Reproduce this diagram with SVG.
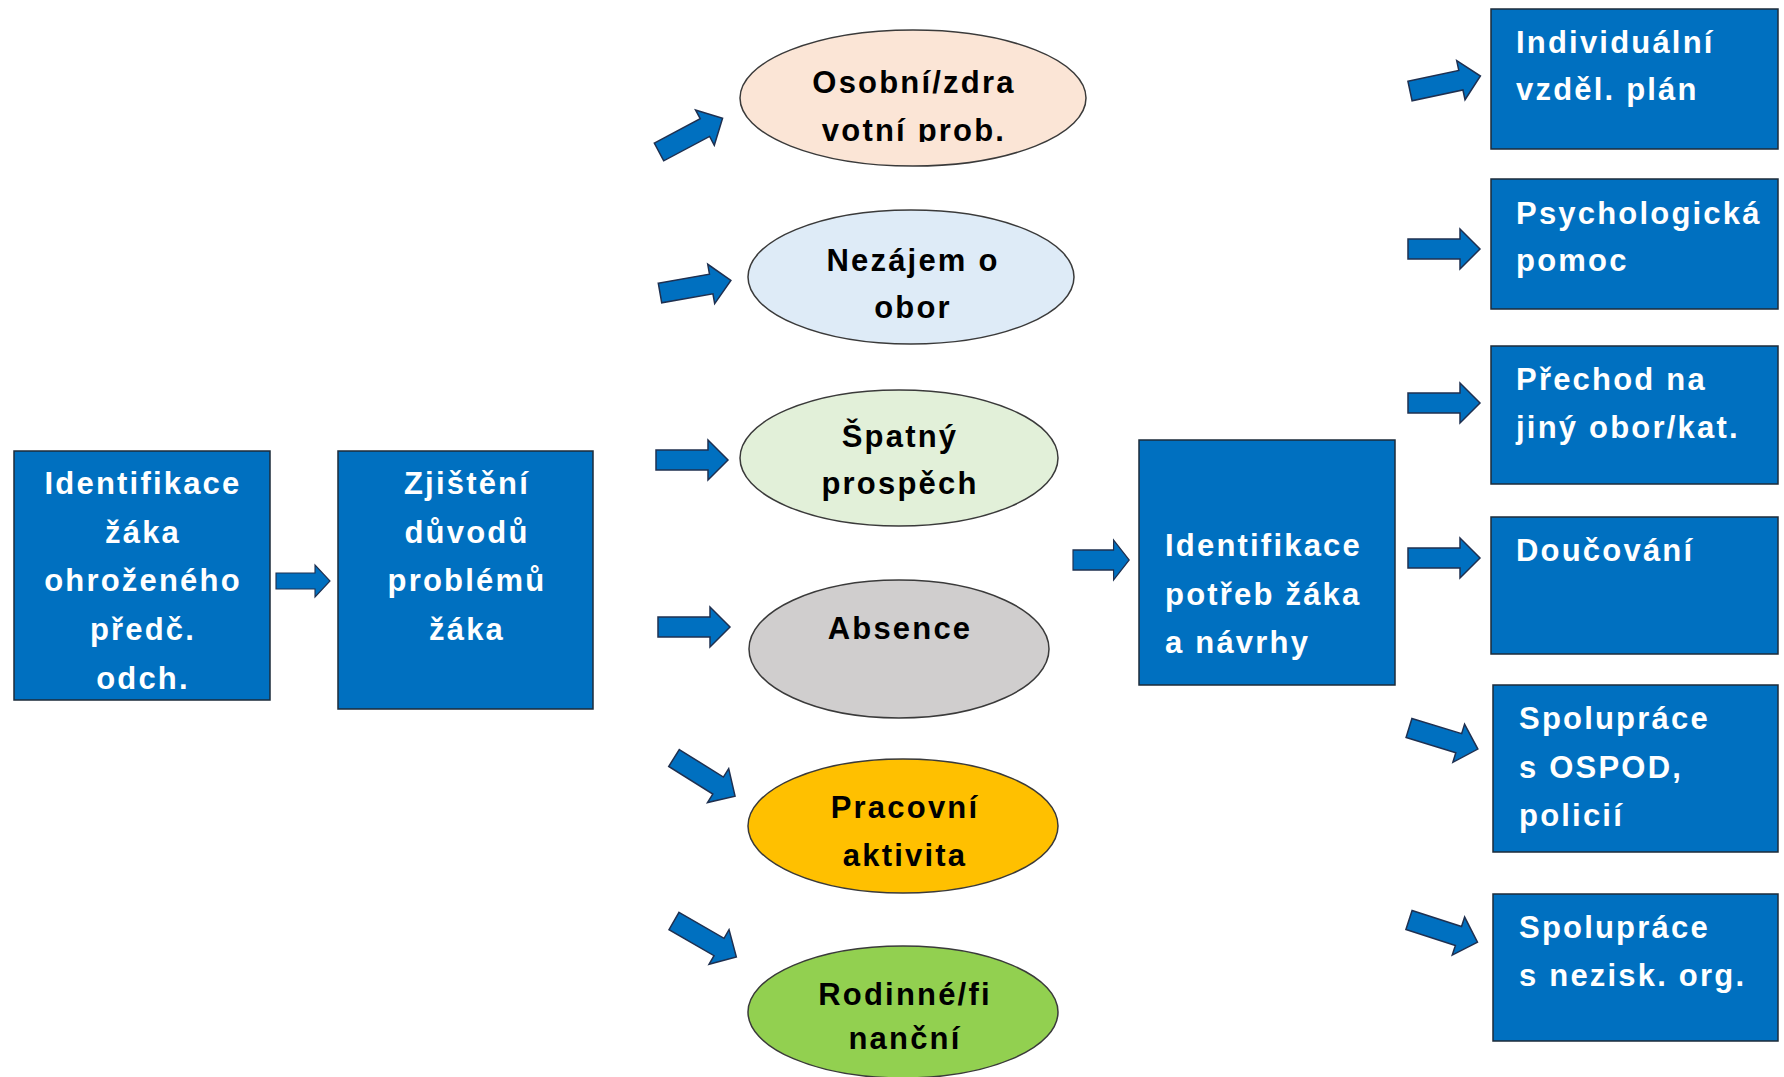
<svg xmlns="http://www.w3.org/2000/svg" xmlns:xlink="http://www.w3.org/1999/xlink" width="1784" height="1077" viewBox="0 0 1784 1077">
<style>
.box{fill:#0070C0;stroke:#1c2b3a;stroke-width:1.5}
.ell{stroke:#3a3a3a;stroke-width:1.5}
.arr{fill:#0070C0;stroke:#1F3050;stroke-width:1.5}
.t{font-family:"Liberation Sans",Arial,sans-serif;font-weight:bold;font-size:31px;letter-spacing:2.2px}
.w{fill:#ffffff}
.k{fill:#000000}
.c{text-anchor:middle}
</style>
<defs>
<path id="a" d="M0,-10 L52,-10 L52,-20 L72,0 L52,20 L52,10 L0,10 Z"/>
<clipPath id="clipO"><rect x="700" y="0" width="450" height="142"/></clipPath>
</defs>
<rect width="1784" height="1077" fill="#ffffff"/>

<g id="connectors">
<use xlink:href="#a" class="arr" transform="translate(276,581) scale(0.75,0.8)"/>
<use xlink:href="#a" class="arr" transform="translate(659,152) rotate(-28)"/>
<use xlink:href="#a" class="arr" transform="translate(660,293) rotate(-10)"/>
<use xlink:href="#a" class="arr" transform="translate(656,460)"/>
<use xlink:href="#a" class="arr" transform="translate(658,627)"/>
<use xlink:href="#a" class="arr" transform="translate(674,758) rotate(32)"/>
<use xlink:href="#a" class="arr" transform="translate(674,921) rotate(30)"/>
<use xlink:href="#a" class="arr" transform="translate(1073,560) scale(0.78,1)"/>
<use xlink:href="#a" class="arr" transform="translate(1410,91) rotate(-12)"/>
<use xlink:href="#a" class="arr" transform="translate(1408,249)"/>
<use xlink:href="#a" class="arr" transform="translate(1408,403)"/>
<use xlink:href="#a" class="arr" transform="translate(1408,558)"/>
<use xlink:href="#a" class="arr" transform="translate(1409,728) rotate(17)"/>
<use xlink:href="#a" class="arr" transform="translate(1409,920) rotate(18)"/>
</g>

<g id="identifikace-zaka">
<rect class="box" x="14" y="451" width="256" height="249"/>
<text class="t w c"><tspan x="143" y="494">Identifikace</tspan><tspan x="143" y="543">žáka</tspan><tspan x="143" y="591">ohroženého</tspan><tspan x="143" y="640">předč.</tspan><tspan x="143" y="689">odch.</tspan></text>
</g>

<g id="zjisteni-duvodu">
<rect class="box" x="338" y="451" width="255" height="258"/>
<text class="t w c"><tspan x="467" y="494">Zjištění</tspan><tspan x="467" y="543">důvodů</tspan><tspan x="467" y="591">problémů</tspan><tspan x="467" y="640">žáka</tspan></text>
</g>

<g id="osobni">
<ellipse class="ell" cx="913" cy="98" rx="173" ry="68" fill="#FBE5D6"/>
<text class="t k c" clip-path="url(#clipO)"><tspan x="914" y="93">Osobní/zdra</tspan><tspan x="914" y="141">votní prob.</tspan></text>
</g>

<g id="nezajem">
<ellipse class="ell" cx="911" cy="277" rx="163" ry="67" fill="#DEEBF7"/>
<text class="t k c"><tspan x="913" y="271">Nezájem o</tspan><tspan x="913" y="318">obor</tspan></text>
</g>

<g id="spatny-prospech">
<ellipse class="ell" cx="899" cy="458" rx="159" ry="68" fill="#E2F0D9"/>
<text class="t k c"><tspan x="900" y="447">Špatný</tspan><tspan x="900" y="494">prospěch</tspan></text>
</g>

<g id="absence">
<ellipse class="ell" cx="899" cy="649" rx="150" ry="69" fill="#D0CECE"/>
<text class="t k c"><tspan x="900" y="639">Absence</tspan></text>
</g>

<g id="pracovni-aktivita">
<ellipse class="ell" cx="903" cy="826" rx="155" ry="67" fill="#FFC000"/>
<text class="t k c"><tspan x="905" y="818">Pracovní</tspan><tspan x="905" y="866">aktivita</tspan></text>
</g>

<g id="rodinne-financni">
<ellipse class="ell" cx="903" cy="1012" rx="155" ry="66" fill="#92D050"/>
<text class="t k c"><tspan x="905" y="1005">Rodinné/fi</tspan><tspan x="905" y="1049">nanční</tspan></text>
</g>

<g id="identifikace-potreb">
<rect class="box" x="1139" y="440" width="256" height="245"/>
<text class="t w"><tspan x="1165" y="556">Identifikace</tspan><tspan x="1165" y="605">potřeb žáka</tspan><tspan x="1165" y="653">a návrhy</tspan></text>
</g>

<g id="individualni-plan">
<rect class="box" x="1491" y="9" width="287" height="140"/>
<text class="t w"><tspan x="1516" y="53">Individuální</tspan><tspan x="1516" y="100">vzděl. plán</tspan></text>
</g>

<g id="psychologicka-pomoc">
<rect class="box" x="1491" y="179" width="287" height="130"/>
<text class="t w"><tspan x="1516" y="224">Psychologická</tspan><tspan x="1516" y="271">pomoc</tspan></text>
</g>

<g id="prechod">
<rect class="box" x="1491" y="346" width="287" height="138"/>
<text class="t w"><tspan x="1516" y="390">Přechod na</tspan><tspan x="1516" y="438">jiný obor/kat.</tspan></text>
</g>

<g id="doucovani">
<rect class="box" x="1491" y="517" width="287" height="137"/>
<text class="t w"><tspan x="1516" y="561">Doučování</tspan></text>
</g>

<g id="spoluprace-ospod">
<rect class="box" x="1493" y="685" width="285" height="167"/>
<text class="t w"><tspan x="1519" y="729">Spolupráce</tspan><tspan x="1519" y="778">s OSPOD,</tspan><tspan x="1519" y="826">policií</tspan></text>
</g>

<g id="spoluprace-nezisk">
<rect class="box" x="1493" y="894" width="285" height="147"/>
<text class="t w"><tspan x="1519" y="938">Spolupráce</tspan><tspan x="1519" y="986">s nezisk. org.</tspan></text>
</g>
</svg>
